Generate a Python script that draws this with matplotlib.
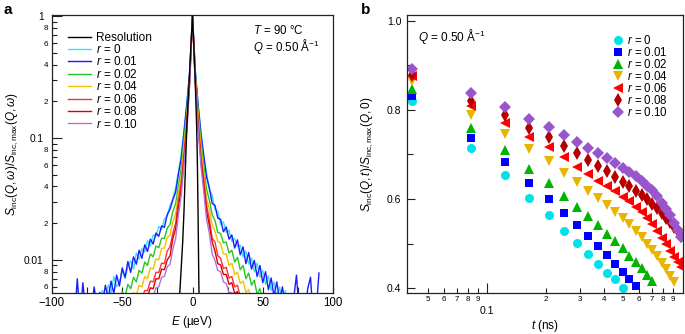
import matplotlib
matplotlib.use('Agg')
import matplotlib.pyplot as plt
from matplotlib.ticker import FixedLocator, FixedFormatter

plt.rcParams['font.family'] = ['Liberation Sans', 'DejaVu Sans']
plt.rcParams['mathtext.fontset'] = 'custom'
plt.rcParams['mathtext.rm'] = 'Liberation Sans'
plt.rcParams['mathtext.it'] = 'Liberation Sans:italic'
plt.rcParams['mathtext.bf'] = 'Liberation Sans:bold'
plt.rcParams['axes.unicode_minus'] = True

# ---------------- Panel a data ----------------
# energy grid (ueV): right side 0..90, left side -2..-90 (outward)
E_right = list(range(0, 92, 2))
E_left = [-e for e in range(2, 92, 2)]

series_a_labels = ['$r$ = 0', '$r$ = 0.01', '$r$ = 0.02', '$r$ = 0.04',
                   '$r$ = 0.06', '$r$ = 0.08', '$r$ = 0.10']
series_a_colors = ['#36e4ef', '#1c1cff', '#26c626', '#f2c200',
                   '#ff3232', '#dc0000', '#b173dc']

r0_right = [1.0, 0.36, 0.19, 0.115, 0.069, 0.052, 0.037, 0.034, 0.026, 0.025, 0.0195, 0.0205, 0.0168, 0.0175, 0.0142, 0.0150, 0.0128, 0.0132, 0.0106, 0.0118, 0.0092, 0.0104, 0.0080, 0.0094, 0.0072, 0.0082, 0.0063, 0.0074, 0.0056, 0.0066, 0.0049, 0.0060, 0.0045, 0.0056, 0.0041, 0.0053, 0.0038, 0.0045, 0.0036, 0.0042, 0.0033, 0.0040, 0.0031, 0.0037, 0.0029, 0.0034]
r0_left = [0.35, 0.20, 0.118, 0.074, 0.053, 0.039, 0.032, 0.028, 0.023, 0.0215, 0.0178, 0.0188, 0.0156, 0.0160, 0.0130, 0.0144, 0.0116, 0.0124, 0.0101, 0.0114, 0.0084, 0.0098, 0.0088, 0.0070, 0.0082, 0.0066, 0.0060, 0.0073, 0.0053, 0.0062, 0.0047, 0.0056, 0.0051, 0.0042, 0.0050, 0.0040, 0.0052, 0.0037, 0.0041, 0.0035, 0.0046, 0.0030, 0.0033, 0.0028, 0.0030]

r001_right = [1.0, 0.35, 0.185, 0.108, 0.072, 0.048, 0.039, 0.029, 0.028, 0.022, 0.0215, 0.0170, 0.0186, 0.0148, 0.0160, 0.0125, 0.0146, 0.0110, 0.0128, 0.0093, 0.0115, 0.0084, 0.0099, 0.0073, 0.0090, 0.0065, 0.0080, 0.0057, 0.0071, 0.0050, 0.0066, 0.0046, 0.0060, 0.0043, 0.0052, 0.0040, 0.0048, 0.0075, 0.0036, 0.0044, 0.0034, 0.0058, 0.0072, 0.0033, 0.0038, 0.0078]
r001_left = [0.345, 0.19, 0.112, 0.068, 0.051, 0.036, 0.031, 0.026, 0.0235, 0.0185, 0.0190, 0.0156, 0.0166, 0.0135, 0.0148, 0.0117, 0.0133, 0.0103, 0.0120, 0.0092, 0.0106, 0.0079, 0.0097, 0.0072, 0.0086, 0.0061, 0.0075, 0.0053, 0.0067, 0.0048, 0.0062, 0.0044, 0.0054, 0.0041, 0.0060, 0.0039, 0.0047, 0.0036, 0.0065, 0.0034, 0.0070, 0.0032, 0.0038, 0.0030, 0.0034]

r002_right = [1.0, 0.33, 0.168, 0.096, 0.060, 0.038, 0.031, 0.0235, 0.021, 0.0168, 0.0165, 0.0138, 0.0140, 0.0114, 0.0120, 0.0096, 0.0105, 0.0083, 0.0090, 0.0070, 0.0078, 0.0062, 0.0068, 0.0052, 0.0058, 0.0046, 0.0053, 0.0042, 0.0047, 0.0038, 0.0044, 0.0035, 0.0040, 0.0032, 0.0036, 0.0030, 0.0033, 0.0028, 0.0031, 0.0026, 0.0029, 0.0025, 0.0027, 0.0023, 0.0026, 0.0022]
r002_left = [0.335, 0.163, 0.10, 0.057, 0.041, 0.029, 0.0250, 0.0195, 0.0182, 0.0150, 0.0150, 0.0126, 0.0130, 0.0106, 0.0112, 0.0090, 0.0096, 0.0078, 0.0082, 0.0066, 0.0072, 0.0058, 0.0063, 0.0050, 0.0055, 0.0044, 0.0050, 0.0040, 0.0045, 0.0037, 0.0041, 0.0034, 0.0038, 0.0031, 0.0034, 0.0029, 0.0032, 0.0027, 0.0030, 0.0025, 0.0028, 0.0024, 0.0026, 0.0022, 0.0024]

r004_right = [1.0, 0.315, 0.152, 0.082, 0.051, 0.032, 0.026, 0.0195, 0.0172, 0.0142, 0.0137, 0.0112, 0.0112, 0.0090, 0.0094, 0.0076, 0.0079, 0.0064, 0.0067, 0.0054, 0.0057, 0.0047, 0.0050, 0.0042, 0.0045, 0.0037, 0.0040, 0.0033, 0.0036, 0.0030, 0.0032, 0.0027, 0.0030, 0.0025, 0.0027, 0.0023, 0.0025, 0.0021, 0.0023, 0.0019, 0.0021, 0.0018, 0.0019, 0.0016, 0.0018, 0.0015]
r004_left = [0.32, 0.149, 0.086, 0.048, 0.035, 0.024, 0.0205, 0.0160, 0.0152, 0.0125, 0.0124, 0.0100, 0.0102, 0.0084, 0.0086, 0.0070, 0.0073, 0.0060, 0.0062, 0.0051, 0.0054, 0.0045, 0.0047, 0.0040, 0.0042, 0.0035, 0.0037, 0.0031, 0.0034, 0.0028, 0.0030, 0.0026, 0.0028, 0.0024, 0.0026, 0.0022, 0.0024, 0.0020, 0.0022, 0.0018, 0.0020, 0.0017, 0.0018, 0.0016, 0.0017]

r006_right = [1.0, 0.30, 0.14, 0.071, 0.046, 0.028, 0.0215, 0.0150, 0.0140, 0.0108, 0.0103, 0.0085, 0.0087, 0.0071, 0.0073, 0.0060, 0.0062, 0.0050, 0.0053, 0.0044, 0.0047, 0.0039, 0.0041, 0.0035, 0.0037, 0.0031, 0.0033, 0.0028, 0.0030, 0.0025, 0.0027, 0.0023, 0.0025, 0.0021, 0.0022, 0.0019, 0.0020, 0.0017, 0.0018, 0.0016, 0.0017, 0.0014, 0.0015, 0.0013, 0.0014, 0.0012]
r006_left = [0.305, 0.136, 0.074, 0.043, 0.031, 0.0200, 0.0165, 0.0128, 0.0118, 0.0093, 0.0094, 0.0079, 0.0079, 0.0066, 0.0067, 0.0056, 0.0056, 0.0048, 0.0050, 0.0042, 0.0044, 0.0037, 0.0039, 0.0033, 0.0035, 0.0030, 0.0031, 0.0027, 0.0028, 0.0024, 0.0026, 0.0022, 0.0023, 0.0020, 0.0021, 0.0018, 0.0019, 0.0016, 0.0017, 0.0015, 0.0016, 0.0014, 0.0014, 0.0012, 0.0013]

r008_right = [1.0, 0.285, 0.127, 0.065, 0.041, 0.025, 0.0192, 0.0140, 0.0118, 0.0093, 0.0091, 0.0076, 0.0076, 0.0063, 0.0065, 0.0053, 0.0055, 0.0046, 0.0049, 0.0041, 0.0043, 0.0036, 0.0038, 0.0032, 0.0034, 0.0029, 0.0030, 0.0026, 0.0027, 0.0023, 0.0025, 0.0021, 0.0023, 0.0019, 0.0020, 0.0018, 0.0019, 0.0016, 0.0017, 0.0015, 0.0016, 0.0014, 0.0014, 0.0013, 0.0013, 0.0012]
r008_left = [0.29, 0.124, 0.068, 0.039, 0.027, 0.0180, 0.0150, 0.0108, 0.0100, 0.0083, 0.0084, 0.0070, 0.0070, 0.0058, 0.0059, 0.0050, 0.0051, 0.0044, 0.0046, 0.0039, 0.0041, 0.0034, 0.0036, 0.0031, 0.0032, 0.0027, 0.0028, 0.0025, 0.0026, 0.0022, 0.0024, 0.0020, 0.0021, 0.0019, 0.0019, 0.0017, 0.0018, 0.0016, 0.0016, 0.0014, 0.0015, 0.0013, 0.0013, 0.0012, 0.0012]

r010_right = [1.0, 0.275, 0.118, 0.059, 0.036, 0.0215, 0.0165, 0.0112, 0.0099, 0.0082, 0.0080, 0.0066, 0.0064, 0.0054, 0.0054, 0.0046, 0.0048, 0.0041, 0.0043, 0.0036, 0.0038, 0.0032, 0.0034, 0.0029, 0.0030, 0.0026, 0.0027, 0.0023, 0.0025, 0.0021, 0.0022, 0.0019, 0.0020, 0.0017, 0.0018, 0.0016, 0.0016, 0.0014, 0.0015, 0.0013, 0.0014, 0.0012, 0.0012, 0.0011, 0.0011, 0.0010]
r010_left = [0.28, 0.115, 0.062, 0.034, 0.0235, 0.0150, 0.0122, 0.0092, 0.0088, 0.0073, 0.0072, 0.0060, 0.0059, 0.0050, 0.0051, 0.0044, 0.0045, 0.0038, 0.0040, 0.0034, 0.0035, 0.0030, 0.0031, 0.0027, 0.0028, 0.0024, 0.0025, 0.0022, 0.0023, 0.0020, 0.0021, 0.0018, 0.0019, 0.0016, 0.0017, 0.0015, 0.0015, 0.0013, 0.0014, 0.0012, 0.0013, 0.0011, 0.0012, 0.0010, 0.0011]

res_E = [-12, -10, -9, -8, -7, -6, -5, -4, -3, -2, -1, 0, 1, 2, 3, 3.5, 4, 4.5, 5, 6]
res_S = [0.002, 0.0035, 0.0055, 0.0087, 0.0139, 0.026, 0.059, 0.126, 0.21, 0.355, 0.6, 1.0,
         0.55, 0.28, 0.12, 0.06, 0.022, 0.0065, 0.003, 0.002]

series_a_right = [r0_right, r001_right, r002_right, r004_right, r006_right, r008_right, r010_right]
series_a_left = [r0_left, r001_left, r002_left, r004_left, r006_left, r008_left, r010_left]

# ---------------- Panel b data ----------------
t_ns = [0.0413, 0.0826, 0.124, 0.165, 0.207, 0.248, 0.289, 0.330, 0.372, 0.413, 0.454, 0.496,
        0.537, 0.578, 0.620, 0.661, 0.702, 0.744, 0.785, 0.826, 0.867, 0.909, 0.950, 0.991]
b_r0 = [0.821, 0.715, 0.654, 0.603, 0.565, 0.529, 0.502, 0.476, 0.455, 0.435, 0.421, 0.401]
b_r001 = [0.832, 0.738, 0.683, 0.635, 0.600, 0.568, 0.542, 0.517, 0.495, 0.474, 0.454, 0.437, 0.421, 0.404]
b_r002 = [0.846, 0.759, 0.709, 0.667, 0.635, 0.607, 0.582, 0.561, 0.541, 0.522, 0.505, 0.490, 0.472, 0.458, 0.445, 0.430, 0.415]
b_r004 = [0.865, 0.789, 0.746, 0.712, 0.685, 0.659, 0.639, 0.619, 0.603, 0.587, 0.571, 0.557, 0.543, 0.529, 0.515, 0.500, 0.486, 0.472, 0.457, 0.442, 0.428, 0.413]
b_r006 = [0.876, 0.809, 0.771, 0.740, 0.716, 0.695, 0.672, 0.656, 0.641, 0.629, 0.617, 0.605, 0.595, 0.583, 0.570, 0.557, 0.543, 0.528, 0.513, 0.498, 0.484, 0.470, 0.458, 0.447]
b_r008 = [0.878, 0.821, 0.789, 0.760, 0.739, 0.720, 0.704, 0.688, 0.674, 0.662, 0.650, 0.639, 0.629, 0.619, 0.609, 0.599, 0.589, 0.579, 0.568, 0.557, 0.548, 0.538, 0.528, 0.518]
b_r010 = [0.892, 0.837, 0.806, 0.780, 0.761, 0.744, 0.727, 0.715, 0.703, 0.691, 0.680, 0.670, 0.661, 0.652, 0.641, 0.630, 0.620, 0.606, 0.592, 0.578, 0.563, 0.547, 0.531, 0.514]
series_b = [b_r0, b_r001, b_r002, b_r004, b_r006, b_r008, b_r010]
series_b_colors = ['#00e2ea', '#0000ff', '#00b400', '#e8b400', '#ff0000', '#b40000', '#9955cc']
series_b_markers = ['o', 's', '^', 'v', '<', 'd', 'D']
series_b_sizes = [6.5, 6.2, 7.2, 7.2, 7.2, 7.5, 6.5]

W, H = 685, 334
fig = plt.figure(figsize=(W / 100, H / 100), dpi=100)
axa = fig.add_axes([52 / W, (H - 293) / H, 281 / W, 278 / H])
axb = fig.add_axes([407 / W, (H - 293) / H, 276 / W, 278 / H])

spine_col = '#222222'

# ---------------- Panel a ----------------
axa.plot(res_E, res_S, color='black', lw=1.0, label='Resolution', zorder=3)
for lab, col, right, left in zip(series_a_labels, series_a_colors, series_a_right, series_a_left):
    E = E_left[::-1] + E_right
    S = left[::-1] + right
    axa.plot(E, S, color=col, lw=1.0, label=lab)
axa.set_yscale('log')
axa.set_xlim(-100, 100)
axa.set_ylim(0.00535, 1.02)
axa.set_xticks([-100, -50, 0, 50, 100])
axa.set_xticks([-75, -25, 25, 75], minor=True)
axa.tick_params(axis='x', which='both', direction='in', length=4, width=0.8,
                labelsize=8.3, pad=3, color=spine_col)
axa.yaxis.set_major_locator(FixedLocator([0.01, 0.1, 1.0]))
axa.yaxis.set_major_formatter(FixedFormatter(['0.01', '0.1', '1']))
minor_pos = [0.006, 0.007, 0.008, 0.009,
             0.02, 0.03, 0.04, 0.05, 0.06, 0.07, 0.08, 0.09,
             0.2, 0.3, 0.4, 0.5, 0.6, 0.7, 0.8, 0.9]
minor_lab = ['6', '', '8', '',
             '2', '', '4', '', '6', '', '8', '',
             '2', '', '4', '', '6', '', '8', '']
axa.yaxis.set_minor_locator(FixedLocator(minor_pos))
axa.yaxis.set_minor_formatter(FixedFormatter(minor_lab))
axa.tick_params(axis='y', which='major', direction='in', length=7, width=0.8,
                labelsize=7.3, pad=6, color=spine_col)
axa.tick_params(axis='y', which='minor', direction='in', length=3.6, width=0.8,
                labelsize=5.8, pad=3, color=spine_col)
for s in axa.spines.values():
    s.set_linewidth(0.9)
    s.set_color(spine_col)
leg_a = axa.legend(loc='upper left', bbox_to_anchor=(0.058, 0.94), frameon=False,
                   fontsize=8.5, handlelength=1.9, handletextpad=0.45,
                   labelspacing=-0.05, borderpad=0, borderaxespad=0)

fig.text(12 / W, 1 - 154 / H, r'$S_{\mathrm{inc}}(Q,\omega)/S_{\mathrm{inc,max}}(Q,\omega)$',
         rotation=90, ha='center', va='center', fontsize=8.5)
fig.text(192 / W, 1 - 322 / H, r'$E$ (µeV)', ha='center', va='center', fontsize=8.5)
fig.text(253 / W, 1 - 30 / H, r'$T$ = 90 °C', ha='left', va='center', fontsize=8.3)
fig.text(253 / W, 1 - 46 / H, r'$Q$ = 0.50 Å$^{-1}$', ha='left', va='center', fontsize=8.3)
fig.text(3 / W, 1 - 10 / H, 'a', ha='left', va='center', fontsize=11, fontweight='bold')

# ---------------- Panel b ----------------
for vals, col, mk, ms, lab in zip(series_b, series_b_colors, series_b_markers,
                                  series_b_sizes, series_a_labels):
    axb.plot(t_ns[:len(vals)], vals, linestyle='none', marker=mk, color=col,
             markersize=ms, markeredgewidth=0, label=lab)
axb.set_xscale('log')
axb.set_xlim(0.039, 1.01)
axb.set_ylim(0.389, 1.013)
axb.xaxis.set_major_locator(FixedLocator([0.1]))
axb.xaxis.set_major_formatter(FixedFormatter(['0.1']))
bx_minor = [0.05, 0.06, 0.07, 0.08, 0.09, 0.2, 0.3, 0.4, 0.5, 0.6, 0.7, 0.8, 0.9]
bx_minor_lab = ['5', '6', '7', '8', '9', '2', '3', '4', '5', '6', '7', '8', '9']
axb.xaxis.set_minor_locator(FixedLocator(bx_minor))
axb.xaxis.set_minor_formatter(FixedFormatter(bx_minor_lab))
axb.tick_params(axis='x', which='major', direction='in', length=7, width=0.8,
                labelsize=7.5, pad=9, color=spine_col)
axb.tick_params(axis='x', which='minor', direction='in', length=3.5, width=0.8,
                labelsize=5.8, pad=2.5, color=spine_col)
axb.yaxis.set_major_locator(FixedLocator([0.4, 0.6, 0.8, 1.0]))
axb.yaxis.set_major_formatter(FixedFormatter(['0.4', '0.6', '0.8', '1.0']))
axb.yaxis.set_minor_locator(FixedLocator([0.5, 0.7, 0.9]))
axb.tick_params(axis='y', which='major', direction='in', length=6, width=0.8,
                labelsize=7.5, pad=4, color=spine_col)
axb.tick_params(axis='y', which='minor', direction='in', length=4, width=0.8,
                color=spine_col)
for s in axb.spines.values():
    s.set_linewidth(0.9)
    s.set_color(spine_col)
leg_b = axb.legend(loc='upper left', bbox_to_anchor=(0.745, 0.93), frameon=False,
                   fontsize=8.3, handlelength=0.9, handletextpad=0.35,
                   labelspacing=-0.1, borderpad=0, borderaxespad=0, numpoints=1)

fig.text(367 / W, 1 - 154 / H, r'$S_{\mathrm{inc}}(Q,t)/S_{\mathrm{inc,max}}(Q,0)$',
         rotation=90, ha='center', va='center', fontsize=8.5)
fig.text(545 / W, 1 - 326 / H, r'$t$ (ns)', ha='center', va='center', fontsize=8.5)
fig.text(418 / W, 1 - 37 / H, r'$Q$ = 0.50 Å$^{-1}$', ha='left', va='center', fontsize=8.5)
fig.text(361 / W, 1 - 10 / H, 'b', ha='left', va='center', fontsize=11, fontweight='bold')

fig.savefig('out.png', dpi=100)
